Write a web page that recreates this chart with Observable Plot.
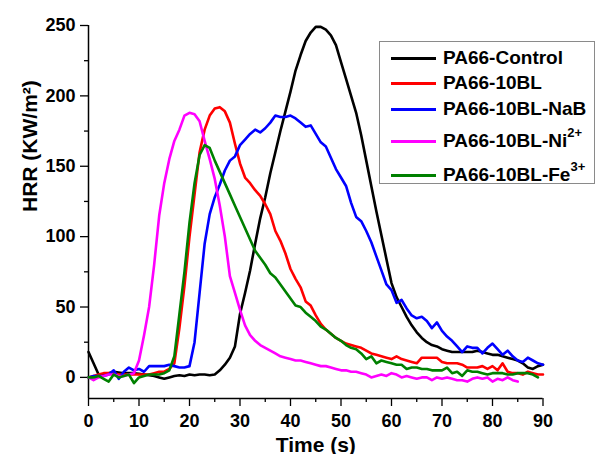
<!DOCTYPE html>
<html>
<head>
<meta charset="utf-8">
<script src="https://cdn.jsdelivr.net/npm/d3@7"></script>
<script src="https://cdn.jsdelivr.net/npm/@observablehq/plot@0.6"></script>
<style>
  html, body { margin: 0; padding: 0; background: #fff; }
  #wrap { position: relative; width: 597px; height: 454px; font-family: "Liberation Sans", Arial, sans-serif; }
  #legend { position: absolute; left: 379px; top: 41px; width: 216px; height: 143px; border: 1px solid #8a8a8a; background: #fff; box-sizing: border-box; }
  .row { position: absolute; left: 0; display: flex; align-items: center; font-weight: bold; font-size: 19px; color: #000; white-space: nowrap; }
  .sw { width: 45px; height: 3px; margin-left: 11px; margin-right: 7px; }
  .row sup { font-size: 13px; position: relative; top: -3px; vertical-align: super; line-height: 0; }
</style>
</head>
<body>
<div id="wrap"></div>
<script>
// ---- data ----
const seriesNames = ["PA66-Control", "PA66-10BL", "PA66-10BL-NaB", "PA66-10BL-Ni2+", "PA66-10BL-Fe3+"];
const seriesColors = ["#000000", "#ff0000", "#0000ff", "#ff00ff", "#008000"];

const time = d3.range(0, 91); // 0..90 s, 1 s step

const control = [18,10,2,2,3,4,3.5,3,3,3,2.5,2,1.5,1,0,-1,0,1,1.5,1,2,1.5,2,2,1.5,2,5,9,14,22,
  45,60,76,95,113,128,145,160,175,189,203,218,229,239,245,249,249,247,243,236,
  224,212,200,188,172,154,136,118,101,84,67,57,50,43,37,32,28,25,23,22,
  20,19,18,18,18,18,18,19,18,17,16,16,15,14,13,12,10,7,6,8,9];

const bl10 = [0,1,2,3,3,3,2,2,2,2,2,2,2,3,4,4,6,10,35,65,
  100,130,160,176,186,191,192,189,181,166,152,142,138,133,129,123,116,104,97,88,
  77,70,64,54,51,44,38,34,31,28,26,24,23,22,21,19,17,16,15,14,
  13,15,13,12,11,10,14,14,14,14,11,10,10,10,9,7,7,7,8,6,
  8,5,10,4,3,3,2,4,3,2,2];

const nab = [0,1,1,1,2,5,-1,4,7,5,6,4,8,8,8,8,9,8,7,7,
  8,25,60,95,116,128,137,147,154,157,165,169,173,176,174,177,181,186,185,185,
  186,184,181,178,179,173,167,164,156,148,142,136,124,114,111,104,96,86,76,66,
  62,53,55,49,44,42,43,40,35,39,33,29,26,22,18,22,21,21,17,21,
  24,20,16,19,15,12,11,14,12,10,9];

const ni = [0,-2,0,1,2,2,1,1,2,3,12,30,50,80,115,138,155,168,176,186,
  188,187,182,168,155,141,122,100,72,60,48,37,30,26,23,21,19,17,15,14,
  13,12,12,11,10,9,8,8,7,6,5,5,4,4,3,2,0,1,2,1,
  3,2,0,1,0,-1,0,0,-2,0,-1,0,-1,-2,-2,-3,-1,0,-1,0,
  -3,-1,-2,0,-2,-3]; // ends at 85 s

const fe = [0,0,1,-1,-3,2,0,1,2,-4,0,1,2,2,2,3,5,15,45,75,
  110,138,158,165,163,154,146,138,130,122,114,106,98,90,85,80,74,71,66,61,
  56,51,50,46,43,40,36,34,31,28,26,23,21,20,17,13,15,10,12,11,
  10,9,9,6,7,7,6,6,5,5,5,7,3,4,1,5,4,4,3,2,
  3,3,3,2,2,3,3,3,2,0]; // ends at 89 s

const xTicks = d3.range(0, 91, 10);
const xMinor = d3.range(5, 90, 10);
const yTicks = [0, 50, 100, 150, 200, 250];
const yMinor = [25, 75, 125, 175, 225];

// ---- build table ----
const valueSets = [control, bl10, nab, ni, fe];
const rows = [];
valueSets.forEach((vals, i) => {
  vals.forEach((v, j) => rows.push({t: time[j], v, s: seriesNames[i]}));
});

const font = "'Liberation Sans', Arial, sans-serif";

const chart = Plot.plot({
  width: 597,
  height: 454,
  marginLeft: 88,
  marginRight: 54.5,
  marginTop: 25,
  marginBottom: 56,
  style: {fontFamily: font, fontWeight: "bold", fontSize: "18px", color: "#000", background: "#fff"},
  x: {domain: [0, 90], axis: null},
  y: {domain: [-15, 250], axis: null},
  color: {domain: seriesNames, range: seriesColors},
  marks: [
    Plot.axisX({ticks: xTicks, tickSize: 8, tickPadding: 8, strokeWidth: 1.3, label: null, fontSize: 18}),
    Plot.axisX({ticks: xMinor, tickSize: 4, tickFormat: () => "", strokeWidth: 1.3, label: null}),
    Plot.axisY({ticks: yTicks, tickSize: 8, tickPadding: 5, strokeWidth: 1.3, label: null, fontSize: 18}),
    Plot.axisY({ticks: yMinor, tickSize: 4, tickFormat: () => "", strokeWidth: 1.3, label: null}),
    Plot.ruleX([0], {y1: -15, y2: 250, stroke: "#000", strokeWidth: 1.5}),
    Plot.ruleY([-15], {x1: 0, x2: 90, stroke: "#000", strokeWidth: 1.5}),
    Plot.line(rows, {x: "t", y: "v", z: "s", stroke: "s", strokeWidth: 2.6, strokeLinejoin: "round", strokeLinecap: "round"}),
    Plot.text(["Time (s)"], {frameAnchor: "bottom", dy: 53, fontSize: 21, fontWeight: "bold", fill: "#000"}),
    Plot.text(["HRR (KW/m²)"], {frameAnchor: "left", dx: -58, rotate: -90, fontSize: 21, fontWeight: "bold", fill: "#000"})
  ]
});

const wrap = document.getElementById("wrap");
wrap.appendChild(chart);

// ---- legend (HTML overlay) ----
const legendLabels = [
  ["PA66-Control", ""],
  ["PA66-10BL", ""],
  ["PA66-10BL-NaB", ""],
  ["PA66-10BL-Ni", "2+"],
  ["PA66-10BL-Fe", "3+"]
];
const rowCenters = [16, 41, 67, 99, 133];
const legend = document.createElement("div");
legend.id = "legend";
legendLabels.forEach(([txt, sup], i) => {
  const r = document.createElement("div");
  r.className = "row";
  r.style.top = (rowCenters[i] - 12) + "px";
  r.style.height = "24px";
  const sw = document.createElement("div");
  sw.className = "sw";
  sw.style.background = seriesColors[i];
  r.appendChild(sw);
  const span = document.createElement("span");
  span.textContent = txt;
  if (sup) {
    const s = document.createElement("sup");
    s.textContent = sup;
    span.appendChild(s);
  }
  r.appendChild(span);
  legend.appendChild(r);
});
wrap.appendChild(legend);
</script>
</body>
</html>
